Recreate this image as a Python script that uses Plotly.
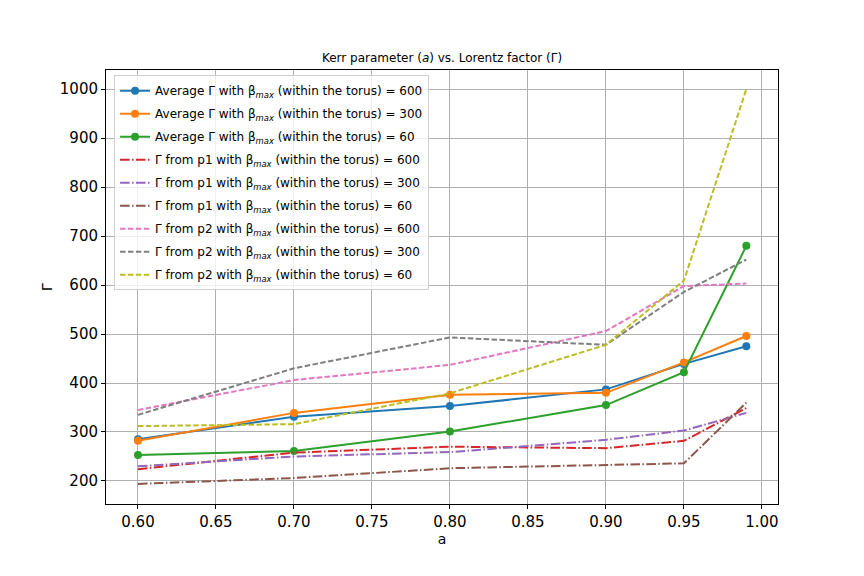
import plotly.graph_objects as go

a_vals = [0.60, 0.70, 0.80, 0.90, 0.95, 0.99]

avg_600 = [285, 331, 353, 387, 439, 475]
avg_300 = [282, 339, 376, 380, 442, 496]
avg_60 = [253, 261, 301, 355, 422, 680]
p1_600 = [224, 258, 270, 267, 282, 349]
p1_300 = [230, 250, 259, 284, 303, 339]
p1_60 = [194, 206, 226, 232, 236, 360]
p2_600 = [345, 406, 437, 506, 598, 603]
p2_300 = [335, 430, 493, 478, 586, 652]
p2_60 = [312, 316, 379, 478, 609, 1000]

x_ticks = [0.60, 0.65, 0.70, 0.75, 0.80, 0.85, 0.90, 0.95, 1.00]
y_ticks = [200, 300, 400, 500, 600, 700, 800, 900, 1000]

B = "β<sub><i>max</i></sub>"
series = [
    (f"Average Γ with {B} (within the torus) = 600", avg_600, "#1f77b4", "solid", True),
    (f"Average Γ with {B} (within the torus) = 300", avg_300, "#ff7f0e", "solid", True),
    (f"Average Γ with {B} (within the torus) = 60", avg_60, "#2ca02c", "solid", True),
    (f"Γ from p1 with {B} (within the torus) = 600", p1_600, "#d62728", "9.6px,2.4px,1.5px,2.4px", False),
    (f"Γ from p1 with {B} (within the torus) = 300", p1_300, "#9467bd", "9.6px,2.4px,1.5px,2.4px", False),
    (f"Γ from p1 with {B} (within the torus) = 60", p1_60, "#8c564b", "9.6px,2.4px,1.5px,2.4px", False),
    (f"Γ from p2 with {B} (within the torus) = 600", p2_600, "#e377c2", "5.5px,2.4px", False),
    (f"Γ from p2 with {B} (within the torus) = 300", p2_300, "#7f7f7f", "5.5px,2.4px", False),
    (f"Γ from p2 with {B} (within the torus) = 60", p2_60, "#bcbd22", "5.5px,2.4px", False),
]

fig = go.Figure()
for i, (name, ys, color, dash, mk) in enumerate(series):
    fig.add_trace(go.Scatter(
        x=a_vals, y=ys, name=name, legendgroup=f"g{i}",
        mode="lines+markers" if mk else "lines",
        line=dict(color=color, width=2, dash=dash),
        marker=dict(size=8, color=color),
    ))

axis_common = dict(
    showgrid=True, gridcolor="#b0b0b0", gridwidth=1,
    showline=True, linecolor="black", linewidth=1, mirror=True,
    ticks="outside", ticklen=4, tickcolor="black",
    tickfont=dict(size=15, color="black"), zeroline=False, automargin=False,
)

fig.update_layout(
    width=864, height=576,
    margin=dict(l=98, r=94, t=62, b=80),
    paper_bgcolor="white", plot_bgcolor="white",
    font=dict(family="DejaVu Sans", color="black"),
    title=dict(text="Kerr parameter (<i>a</i>) vs. Lorentz factor (Γ)",
               font=dict(size=12), x=0.5, xanchor="center", xref="paper",
               y=1 - 50 / 576, yanchor="middle", automargin=False),
    xaxis=dict(range=[0.5795, 1.0103], tickvals=x_ticks,
               ticktext=[f"{v:.2f}" for v in x_ticks],
               title=dict(text="a", font=dict(size=14), standoff=0), **axis_common),
    yaxis=dict(range=[153, 1039], tickvals=y_ticks, **axis_common),
    legend=dict(x=0.012, y=0.988, xanchor="left", yanchor="top",
                bgcolor="rgba(255,255,255,0.8)", bordercolor="#d0d0d0", borderwidth=1,
                font=dict(size=12), tracegroupgap=4, itemwidth=30),
    showlegend=True,
    annotations=[dict(text="Γ", xref="paper", yref="paper", x=0, y=0.5,
                      xshift=-59, xanchor="center", yanchor="middle",
                      textangle=-90, showarrow=False, font=dict(size=14))],
)

fig.write_html("out.html")
